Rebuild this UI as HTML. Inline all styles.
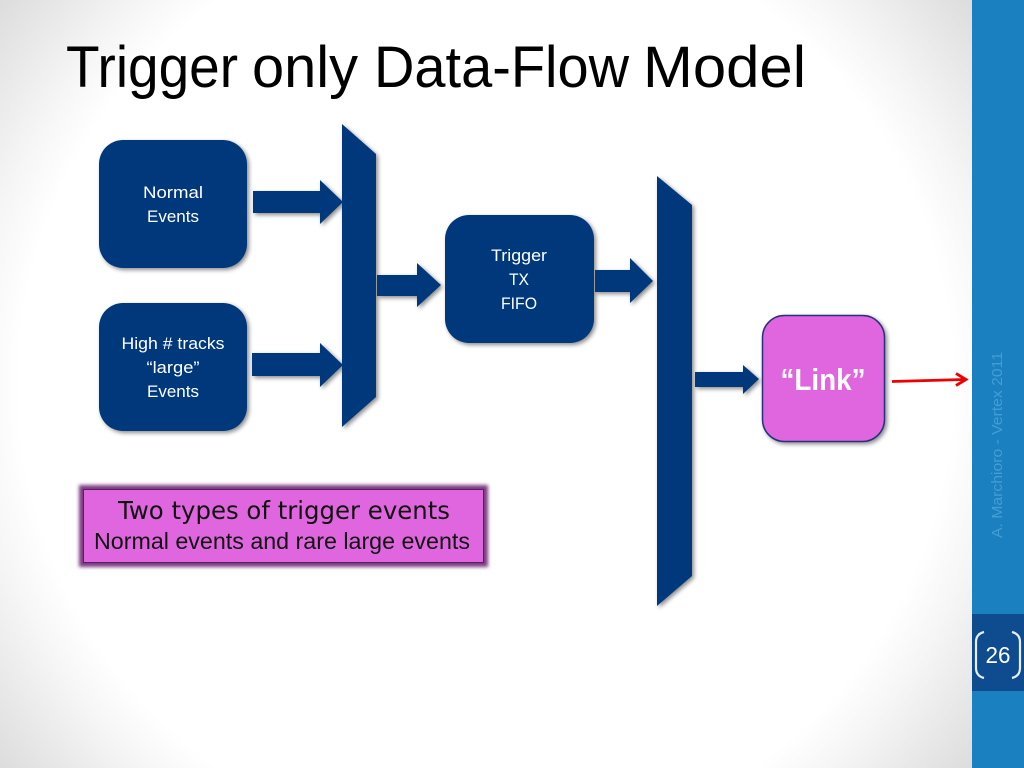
<!DOCTYPE html>
<html><head><meta charset="utf-8"><style>
html,body{margin:0;padding:0;background:#fff}
svg{display:block}
</style></head><body>
<svg width="1024" height="768" viewBox="0 0 1024 768" xmlns="http://www.w3.org/2000/svg" font-family="'Liberation Sans',sans-serif">
<defs>
<radialGradient id="bg" gradientUnits="userSpaceOnUse" cx="486" cy="384" r="640">
<stop offset="0" stop-color="#fff"/><stop offset="0.73" stop-color="#fff"/><stop offset="0.8" stop-color="#f6f6f6"/><stop offset="0.97" stop-color="#dcdcdc"/><stop offset="1" stop-color="#dadada"/>
</radialGradient>
<filter id="sh" x="-20%" y="-20%" width="140%" height="140%"><feDropShadow dx="2" dy="2" stdDeviation="2" flood-color="#000" flood-opacity="0.45"/></filter>
<filter id="glow" x="-10%" y="-30%" width="120%" height="160%"><feGaussianBlur stdDeviation="1.800"/></filter>
</defs>
<rect width="1024" height="768" fill="url(#bg)"/>
<rect x="972" width="52" height="768" fill="#1b80c0"/>
<rect x="972" y="614" width="52" height="77" fill="#0f4c8f"/>
<g font-size="58" fill="#000">
<text x="66" y="87" textLength="172" lengthAdjust="spacingAndGlyphs">Trigger</text>
<text x="252" y="87" textLength="106" lengthAdjust="spacingAndGlyphs">only</text>
<text x="374" y="87" textLength="255" lengthAdjust="spacingAndGlyphs">Data-Flow</text>
<text x="643" y="87" textLength="163" lengthAdjust="spacingAndGlyphs">Model</text>
</g>

<g fill="#06397c" filter="url(#sh)">
<rect x="99" y="140" width="148" height="128" rx="24"/>
<rect x="99" y="303" width="148" height="128" rx="24"/>
<rect x="445" y="215" width="149" height="128" rx="24"/>
<path d="M253 191H320V180L343 202L320 224V213H253Z"/>
<path d="M252 353H320V343L343 365L320 387V376H252Z"/>
<path d="M342 124L376 154V397L342 427Z"/>
<path d="M377 275H417V263L441 285L417 307V296H377Z"/>
<path d="M595 270H630V258L653 281L630 303V292H595Z"/>
<path d="M657 176L692 205V576L657 606Z"/>
<path d="M695 372H743V365L759 379L743 394V387H695Z"/>
</g>
<rect x="762.500" y="315.500" width="122" height="126" rx="22" fill="#e066e0" stroke="#25307c" stroke-width="1.500" filter="url(#sh)"/>
<path d="M892 381.500L964 379.500" stroke="#ee0000" stroke-width="2.800" fill="none"/>
<path d="M956 373.500L966 379.500L956 385.500" stroke="#ee0000" stroke-width="2.800" fill="none"/>

<g fill="#fff" font-size="17" text-anchor="middle">
<text x="173" y="198" textLength="60" lengthAdjust="spacingAndGlyphs">Normal</text>
<text x="173" y="222" textLength="52" lengthAdjust="spacingAndGlyphs">Events</text>
<text x="173" y="349" textLength="103" lengthAdjust="spacingAndGlyphs">High # tracks</text>
<text x="173" y="373" textLength="53" lengthAdjust="spacingAndGlyphs">“large”</text>
<text x="173" y="397" textLength="52" lengthAdjust="spacingAndGlyphs">Events</text>
<text x="519" y="261" textLength="56" lengthAdjust="spacingAndGlyphs">Trigger</text>
<text x="519" y="285" textLength="20" lengthAdjust="spacingAndGlyphs">TX</text>
<text x="519" y="309" textLength="36" lengthAdjust="spacingAndGlyphs">FIFO</text>
<text x="823" y="390" font-size="31" font-weight="bold" textLength="85" lengthAdjust="spacingAndGlyphs">“Link”</text>
</g>

<rect x="79" y="485" width="409" height="82" fill="#7a3a80" filter="url(#glow)"/>
<rect x="83.500" y="489.500" width="400" height="73" fill="#e066e0" stroke="#5a1f60" stroke-width="1"/>
<text x="118" y="519" font-family="'DejaVu Sans',sans-serif" font-size="25" fill="#111" textLength="332" lengthAdjust="spacingAndGlyphs">Two types of trigger events</text>
<text x="94" y="549" font-size="23" fill="#111" textLength="376" lengthAdjust="spacingAndGlyphs">Normal events and rare large events</text>

<text transform="translate(1002,538) rotate(-90)" font-size="15" fill="#449dd5" textLength="186" lengthAdjust="spacingAndGlyphs">A. Marchioro - Vertex 2011</text>
<text x="998" y="663" font-size="23" fill="#fff" text-anchor="middle" textLength="25" lengthAdjust="spacingAndGlyphs">26</text>
<path d="M984 632Q976 634 976 642V668Q976 676 984 678" fill="none" stroke="#e6eef6" stroke-width="2.200"/>
<path d="M1012 632Q1020 634 1020 642V668Q1020 676 1012 678" fill="none" stroke="#e6eef6" stroke-width="2.200"/>
</svg>
</body></html>
